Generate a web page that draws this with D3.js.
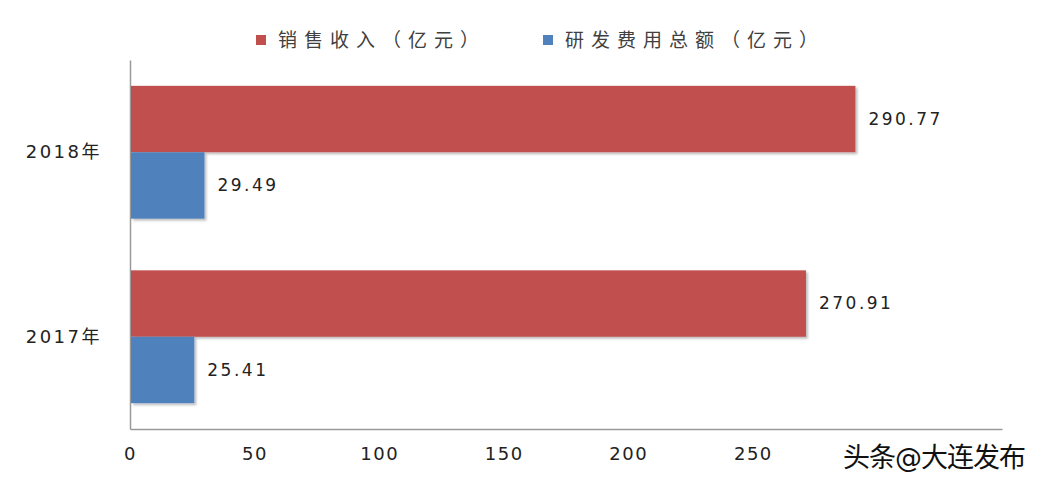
<!DOCTYPE html>
<html>
<head>
<meta charset="utf-8">
<script src="https://cdn.jsdelivr.net/npm/d3@7"></script>
<style>
  body { margin: 0; background: #fff; }
  text { font-family: "DejaVu Sans", "Noto Sans CJK SC", sans-serif; }
</style>
</head>
<body>
<div id="chart-area"></div>
<script>
const years = ['2018年', '2017年'];
const seriesNames = ['销售收入（亿元）', '研发费用总额（亿元）'];
const sales = [290.77, 270.91];
const rnd = [29.49, 25.41];
const tickValues = [0, 50, 100, 150, 200, 250];
const colors = ['#C0504D', '#4F81BD'];

const margin = {left: 130, right: 38, top: 60, bottom: 57};
const width = 1040 - margin.left - margin.right,
    height = 486 - margin.top - margin.bottom;

const svg = d3.select('#chart-area')
    .append('svg')
    .attr('width', 1040)
    .attr('height', 486);

const defs = svg.append('defs');
const shadow = defs.append('filter').attr('id', 'shadow')
    .attr('x', '-5%').attr('y', '-10%').attr('width', '110%').attr('height', '130%');
shadow.append('feDropShadow')
    .attr('dx', 2).attr('dy', 2).attr('stdDeviation', 1.2)
    .attr('flood-color', '#000').attr('flood-opacity', 0.25);

const g = svg.append('g')
    .attr('transform', 'translate(' + margin.left + ', ' + margin.top + ')');

const xScale = d3.scaleLinear()
    .domain([0, 350])
    .range([0, width]);

const yScale = d3.scaleBand()
    .domain(years)
    .range([0, height])
    .paddingInner(0.28)
    .paddingOuter(0.14);

const sub = d3.scaleBand()
    .domain([0, 1])
    .range([0, yScale.bandwidth()]);

const data = years.map((y, i) => ({year: y, values: [sales[i], rnd[i]]}));

// axes
const xAxisCall = d3.axisBottom(xScale)
    .tickValues(tickValues)
    .tickSize(0)
    .tickPadding(18)
    .tickFormat(d3.format('d'));

const xAxis = g.append('g')
    .attr('transform', 'translate(0, ' + height + ')')
    .call(xAxisCall);
xAxis.select('.domain').attr('stroke', '#9a9a9a').attr('stroke-width', 1.5);
xAxis.selectAll('text').attr('font-size', '18px').attr('fill', '#222')
    .attr('letter-spacing', '1.5px');

const yAxisCall = d3.axisLeft(yScale).tickSize(0).tickPadding(28);
const yAxis = g.append('g').call(yAxisCall);
yAxis.select('.domain').attr('stroke', '#9a9a9a').attr('stroke-width', 1.5);
yAxis.selectAll('text').attr('font-size', '18px').attr('fill', '#222')
    .attr('letter-spacing', '2.5px');

// bars
const groups = g.selectAll('.grp').data(data).enter()
    .append('g')
    .attr('transform', d => 'translate(0, ' + yScale(d.year) + ')');

groups.selectAll('rect')
    .data(d => d.values)
    .enter()
    .append('rect')
    .attr('x', xScale(0) + 1)
    .attr('y', (d, i) => sub(i))
    .attr('height', sub.bandwidth())
    .attr('width', d => xScale(d) - xScale(0))
    .attr('fill', (d, i) => colors[i])
    .attr('filter', 'url(#shadow)');

groups.selectAll('.val')
    .data(d => d.values)
    .enter()
    .append('text')
    .attr('class', 'val')
    .attr('x', d => xScale(d) + 14)
    .attr('y', (d, i) => sub(i) + sub.bandwidth() / 2)
    .attr('dy', '0.35em')
    .attr('font-size', '17px')
    .attr('fill', '#222')
    .attr('letter-spacing', '2.5px')
    .text(d => d3.format('.2f')(d));

// legend
const legendX = [256, 543];
const legend = svg.selectAll('.legend').data(seriesNames).enter()
    .append('g')
    .attr('transform', (d, i) => 'translate(' + legendX[i] + ', 40)');
legend.append('rect')
    .attr('x', 0).attr('y', -5)
    .attr('width', 10).attr('height', 10)
    .attr('fill', (d, i) => colors[i]);
legend.append('text')
    .attr('x', 22)
    .attr('dy', '0.35em')
    .attr('font-size', '19px')
    .attr('fill', '#404040')
    .attr('letter-spacing', '7px')
    .attr('font-family', '"Noto Sans CJK SC", sans-serif')
    .text(d => d);

// watermark
svg.append('text')
    .attr('x', 1025)
    .attr('y', 458)
    .attr('dy', '0.35em')
    .attr('text-anchor', 'end')
    .attr('font-size', '27px')
    .attr('font-family', '"Noto Sans CJK SC", sans-serif')
    .attr('fill', '#111')
    .attr('stroke', '#fff')
    .attr('stroke-width', 3)
    .attr('paint-order', 'stroke')
    .attr('letter-spacing', '-1px')
    .text('头条@大连发布');
</script>
</body>
</html>
